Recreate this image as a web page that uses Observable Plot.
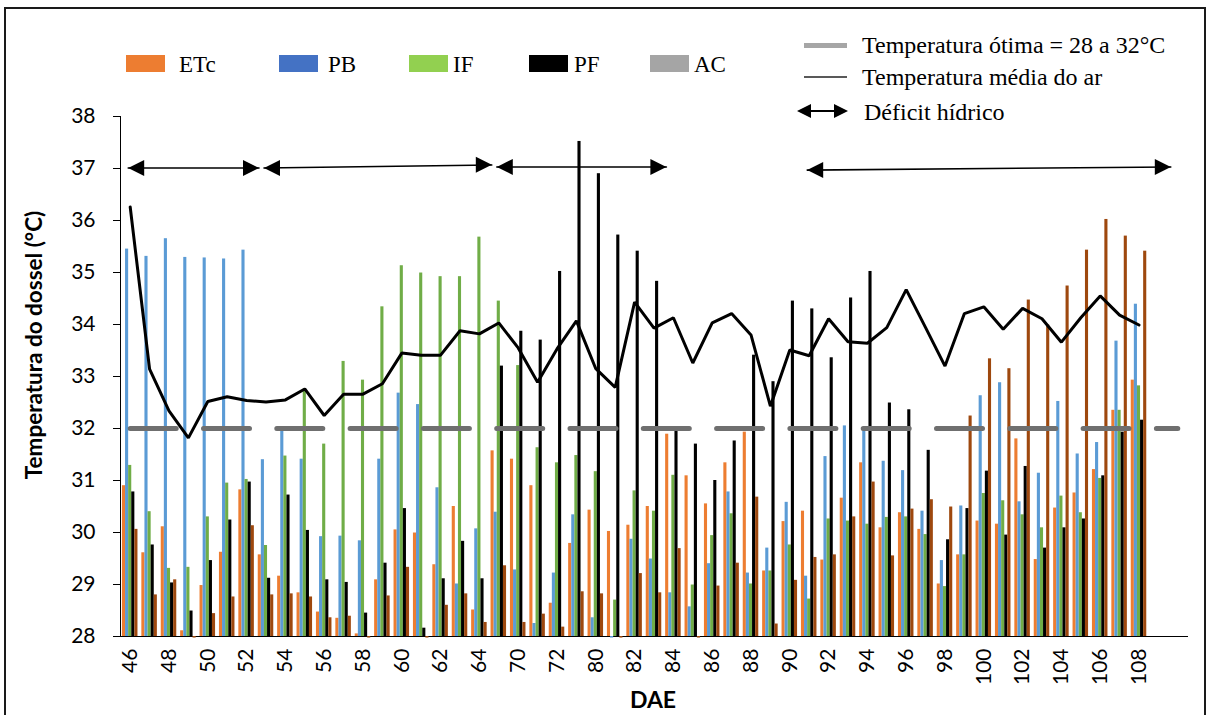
<!DOCTYPE html>
<html>
<head>
<meta charset="utf-8">
<script src="https://cdn.jsdelivr.net/npm/d3@7"></script>
<script src="https://cdn.jsdelivr.net/npm/@observablehq/plot@0.6"></script>
<style>
  html, body { margin: 0; padding: 0; background: #fff; }
  #wrap { position: relative; width: 1209px; height: 715px; overflow: hidden; background: #fff; }
  #chart { position: absolute; left: 0; top: 0; }
  .frame { position: absolute; left: 4px; top: 7px; width: 1202px; height: 740px; border: 2px solid #1a1a1a; box-sizing: border-box; pointer-events: none; }
  .lg { position: absolute; font-family: "Liberation Serif", "Times New Roman", serif; color: #000; white-space: nowrap; line-height: 1; }
  .sw { position: absolute; }
  .title { position: absolute; font-family: Lato, "Open Sans", sans-serif; font-weight: bold; color: #000; white-space: nowrap; line-height: 1; transform: translate(-50%, -50%); }
  .tri-r { position: absolute; width: 0; height: 0; border-top: 7px solid transparent; border-bottom: 7px solid transparent; border-left: 14px solid #000; }
  .tri-l { position: absolute; width: 0; height: 0; border-top: 7px solid transparent; border-bottom: 7px solid transparent; border-right: 14px solid #000; }
</style>
</head>
<body>
<div id="wrap">
  <div id="chart"></div>
</div>
<script>
// ---------------- DATA ----------------
// Categories (DAE). Only every other one is labelled on the axis; the last two are empty.
const categories = ["46","47","48","49","50","51","52","53","54","55","56","57","58","59","60","61","62","63","64",
  "66","70","71","72","76","80","81","82","83","84","85","86","87","88","89","90","91","92","93","94","95","96",
  "97","98","99","100","101","102","103","104","105","106","107","108","109","110"];

const ETc = [30.90,29.61,30.11,28.11,28.98,29.62,30.82,29.57,29.16,28.84,28.47,28.35,28.05,29.09,30.05,29.99,29.38,30.50,28.51,
  31.57,31.41,30.90,28.64,29.79,30.43,30.02,30.14,30.50,31.89,31.09,30.55,31.34,31.93,29.26,30.21,30.41,29.47,30.66,31.34,30.09,30.38,
  30.06,29.01,29.57,30.22,30.16,31.80,29.48,30.47,30.76,31.21,32.35,32.93];
const PB = [35.45,35.31,35.65,35.29,35.28,35.26,35.43,31.40,31.97,31.41,29.92,29.93,29.84,31.41,32.68,32.46,30.86,29.01,30.07,
  30.39,29.28,28.25,29.22,30.34,28.36,27.97,29.87,29.49,28.84,28.57,29.40,30.78,29.22,29.70,30.58,29.16,31.46,32.05,31.97,31.37,31.19,
  30.41,29.46,30.51,32.63,32.88,30.59,31.14,32.52,31.51,31.73,33.68,34.39];
const IF = [31.29,30.40,29.31,29.33,30.30,30.95,31.02,29.75,31.47,32.76,31.70,33.29,32.93,34.34,35.13,34.99,34.92,34.92,35.68,
  34.45,33.21,31.63,31.34,31.48,31.17,28.70,30.80,30.41,31.10,28.99,29.94,30.36,29.01,29.26,29.76,28.72,30.26,30.22,30.16,30.29,30.30,
  29.96,28.96,29.57,30.75,30.61,30.34,30.09,30.70,30.38,31.04,32.35,32.82];
const PF = [30.78,29.76,29.03,28.49,29.46,30.24,30.97,29.12,30.72,30.04,29.09,29.04,28.45,29.41,30.46,28.16,29.11,29.83,29.11,
  33.20,33.87,33.70,35.02,37.52,36.90,35.72,35.41,34.83,31.97,31.70,31.00,31.76,33.41,32.90,34.45,34.30,33.36,34.51,35.02,32.49,32.36,
  31.58,29.86,30.46,31.18,29.95,31.27,29.70,30.09,30.26,31.09,31.93,32.16];
const AC = [30.06,28.80,29.09,27.97,28.44,28.76,30.13,28.80,28.82,28.76,28.36,28.39,27.97,28.78,29.33,27.97,28.60,28.82,28.27,
  29.36,28.27,28.43,28.18,28.86,28.82,27.97,29.21,28.84,29.69,27.97,28.97,29.41,30.68,28.24,29.08,29.52,29.57,30.30,30.97,29.55,30.45,
  30.63,30.49,32.24,33.34,33.15,34.47,33.99,34.74,35.43,36.02,35.70,35.41];
// Temperatura média do ar
const airTemp = [36.26,33.14,32.34,31.82,32.52,32.61,32.54,32.51,32.55,32.76,32.25,32.66,32.66,32.86,33.45,33.41,33.41,33.88,33.82,
  34.03,33.55,32.89,33.53,34.07,33.15,32.79,34.43,33.93,34.13,33.26,34.03,34.21,33.80,32.43,33.51,33.40,34.11,33.67,33.64,33.94,34.67,
  33.94,33.20,34.21,34.34,33.91,34.31,34.11,33.66,34.13,34.55,34.18,33.99];
// Temperatura ótima (upper limit shown)
const optimumTemp = 32;
// Déficit hídrico periods (start / end category) and their height on the y scale
const deficitFrom = ["46","53","66","91"];
const deficitTo   = ["53","66","84","110"];
const deficitY1   = [37.01, 37.01, 37.03, 36.97];
const deficitY2   = [37.01, 37.07, 37.03, 37.03];

const seriesKeys = ["ETc","PB","IF","PF","AC"];
const barColors = ["#ED7D31","#5B9BD5","#70AD47","#000000","#9E480E"];
const legendColors = ["#ED7D31","#4472C4","#92D050","#000000","#A5A5A5"];
const yTicks = [28,29,30,31,32,33,34,35,36,37,38];

// ---------------- BUILD ----------------
const W = 1209, H = 715, mL = 120, mR = 22, mT = 116, mB = 79;
const step = (W - mL - mR) / categories.length;
const bw = step * 0.8;
const sub = bw / seriesKeys.length;

const series = {ETc, PB, IF, PF, AC};
const rows = airTemp.map((t, i) => {
  const r = {cat: categories[i], air: t};
  seriesKeys.forEach(k => r[k] = series[k][i]);
  return r;
});
const optRows = categories.map(c => ({cat: c, y: optimumTemp}));
const deficit = deficitFrom.map((f, i) => ({from: f, to: deficitTo[i], y1: deficitY1[i], y2: deficitY2[i]}));
const shown = new Set(categories.filter((c, i) => i % 2 === 0 && i < airTemp.length));

const headRight = {draw(ctx) { ctx.moveTo(0, 0); ctx.lineTo(-16, -8); ctx.lineTo(-16, 8); ctx.closePath(); }};
const headLeft  = {draw(ctx) { ctx.moveTo(0, 0); ctx.lineTo(16, -8); ctx.lineTo(16, 8); ctx.closePath(); }};

const marks = [];
seriesKeys.forEach((k, j) => {
  marks.push(Plot.barY(rows, {x: "cat", y1: 28, y2: k, fill: barColors[j],
    insetLeft: j * sub, insetRight: (seriesKeys.length - 1 - j) * sub}));
});
marks.push(Plot.line(optRows, {x: "cat", y: "y", stroke: "#6f6f6f", strokeWidth: 5,
  strokeDasharray: "46 27.3", strokeLinecap: "round"}));
marks.push(Plot.line(rows, {x: "cat", y: "air", stroke: "#000", strokeWidth: 3, strokeLinejoin: "miter"}));
marks.push(Plot.arrow(deficit, {x1: "from", x2: "to", y1: "y1", y2: "y2", stroke: "#000", strokeWidth: 1.6,
  headLength: 0, insetStart: -2, insetEnd: 7}));
marks.push(Plot.dot(deficit, {x: "from", y: "y1", symbol: headLeft, fill: "#000", dx: -2}));
marks.push(Plot.dot(deficit, {x: "to", y: "y2", symbol: headRight, fill: "#000", dx: -7}));

const chart = Plot.plot({
  width: W, height: H,
  marginLeft: mL, marginRight: mR, marginTop: mT, marginBottom: mB,
  style: {fontFamily: "Lato, 'Open Sans', sans-serif", fontSize: "21px", color: "#000", background: "#fff"},
  x: {type: "band", domain: categories, paddingInner: 0.2, paddingOuter: 0.1, round: false,
      tickSize: 0, tickPadding: 12, tickRotate: -90,
      tickFormat: d => shown.has(d) ? d : "", line: true, label: null},
  y: {domain: [28, 38], ticks: yTicks, tickSize: 7, tickPadding: 18, line: true, label: null},
  marks
});
document.getElementById("chart").appendChild(chart);

// ---------------- HTML overlays (frame, titles, legend) ----------------
const wrap = document.getElementById("wrap");
function el(cls, css, text) {
  const d = document.createElement("div");
  d.className = cls;
  Object.assign(d.style, css);
  if (text != null) d.textContent = text;
  wrap.appendChild(d);
  return d;
}
el("frame", {});
el("title", {left: "34px", top: "345px", fontSize: "22.5px", transform: "translate(-50%, -50%) rotate(-90deg)"}, "Temperatura do dossel (°C)");
el("title", {left: "653px", top: "699px", fontSize: "23px"}, "DAE");

const swLeft = [126, 279, 409, 529, 650];
const txLeft = [179, 328, 453, 574, 694];
seriesKeys.forEach((k, j) => {
  el("sw", {left: swLeft[j] + "px", top: "55px", width: "39px", height: "17px", background: legendColors[j]});
  el("lg", {left: txLeft[j] + "px", top: "53px", fontSize: "23px"}, k);
});
// right legend
el("sw", {left: "804px", top: "42.5px", width: "43px", height: "5px", background: "#a6a6a6"});
el("lg", {left: "862px", top: "33px", fontSize: "24px"}, "Temperatura ótima = 28 a 32°C");
el("sw", {left: "804px", top: "76px", width: "43px", height: "2px", background: "#595959"});
el("lg", {left: "862px", top: "65px", fontSize: "24px"}, "Temperatura média do ar");
el("sw", {left: "805px", top: "110.2px", width: "36px", height: "1.6px", background: "#000"});
el("tri-l", {left: "797px", top: "104px"});
el("tri-r", {left: "834px", top: "104px"});
el("lg", {left: "864px", top: "100px", fontSize: "24px"}, "Déficit hídrico");
</script>
</body>
</html>
